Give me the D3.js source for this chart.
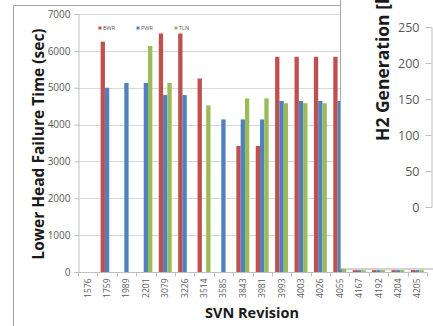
<!DOCTYPE html>
<html>
<head>
<meta charset="utf-8">
<script src="https://cdn.jsdelivr.net/npm/d3@7"></script>
<style>
  html, body { margin: 0; padding: 0; background: #fff; }
  svg { display: block; }
  text { font-family: "Open Sans", "Liberation Sans", sans-serif; }
</style>
</head>
<body>
<svg id="chart" width="433" height="326"></svg>
<script>
// SVN revisions on the x axis
const categories = ["1576","1759","1989","2201","3079","3226","3514","3585","3843",
                    "3981","3993","4003","4026","4055","4167","4192","4204","4205"];
// Lower head failure time (sec) per plant type
const bwr = [null,6250,null,null,6470,6470,5250,null,3420,3420,5840,5840,5840,5840,50,50,50,50];
const pwr = [null,5000,5130,5130,4800,4800,null,4140,4140,4140,4640,4640,4640,4640,50,50,50,50];
const tln = [null,null,null,6130,5130,null,4520,null,4710,4710,4580,4580,4580,4580,50,50,50,50];
const seriesNames = ["BWR","PWR","TLN"];
const seriesColors = ["#c0504d","#4f81bd","#9bbb59"];
const yTicks = [0,1000,2000,3000,4000,5000,6000,7000];
// H2 generation axis of the adjoining chart
const h2Ticks = [0,50,100,150,200,250];

const svg = d3.select("#chart");
const series = [bwr, pwr, tln];

const plotLeft = 78, plotRight = 427, plotTop = 14, plotBottom = 272;

// outer chart frame
svg.append("line").attr("x1",13.5).attr("x2",13.5).attr("y1",5.5).attr("y2",330)
  .attr("stroke","#a6a6a6");
svg.append("line").attr("x1",13.5).attr("x2",440).attr("y1",5.5).attr("y2",5.5)
  .attr("stroke","#a6a6a6");

const x = d3.scaleBand().domain(categories).range([plotLeft, plotRight]).paddingInner(0).paddingOuter(0);
const groupPad = x.bandwidth() / 6;
const barW = x.bandwidth() / 4.5;
const y = d3.scaleLinear().domain([0,7000]).range([plotBottom, plotTop]);

// horizontal gridlines
svg.append("g").selectAll("line").data(yTicks.filter(d => d > 0)).join("line")
  .attr("x1", plotLeft).attr("x2", plotRight)
  .attr("y1", d => Math.round(y(d)) + 0.5).attr("y2", d => Math.round(y(d)) + 0.5)
  .attr("stroke","#d9d9d9");

// y axis
const yAxis = svg.append("g").attr("transform",`translate(${plotLeft + 0.5},0)`)
  .call(d3.axisLeft(y).tickValues(yTicks).tickFormat(d3.format("d")).tickSize(4).tickPadding(4));
yAxis.select(".domain").attr("stroke","#bfbfbf");
yAxis.selectAll(".tick line").attr("stroke","#bfbfbf");
yAxis.selectAll("text").attr("fill","#595959").style("font-size","10px");

// bars
series.forEach((vals, si) => {
  svg.append("g").selectAll("rect")
    .data(categories.map((c, i) => ({c, v: vals[i]})).filter(d => d.v != null))
    .join("rect")
    .attr("x", d => x(d.c) + groupPad + si * barW)
    .attr("width", barW)
    .attr("y", d => y(d.v))
    .attr("height", d => plotBottom - y(d.v))
    .attr("fill", seriesColors[si]);
});

// x axis
const xAxisG = svg.append("g").attr("transform",`translate(0,${plotBottom + 0.5})`);
xAxisG.append("line").attr("x1", plotLeft).attr("x2", plotRight).attr("stroke","#bfbfbf");
xAxisG.selectAll(".tk").data(d3.range(categories.length + 1)).join("line")
  .attr("class","tk")
  .attr("x1", i => Math.round(plotLeft + i * x.step()) + 0.5)
  .attr("x2", i => Math.round(plotLeft + i * x.step()) + 0.5)
  .attr("y1", 0).attr("y2", 4).attr("stroke","#bfbfbf");
xAxisG.selectAll(".lbl").data(categories).join("text")
  .attr("class","lbl")
  .attr("transform", d => `translate(${x(d) + x.bandwidth()/2 + 3},6) rotate(-90)`)
  .attr("text-anchor","end")
  .attr("fill","#595959")
  .style("font-size","8.5px")
  .text(d => d);

// legend
const legend = svg.append("g");
seriesNames.forEach((n, i) => {
  const lx = 100 + i * 38;
  legend.append("rect").attr("x", lx - 1.5).attr("y", 26.5).attr("width", 3).attr("height", 3)
    .attr("fill", seriesColors[i]);
  legend.append("text").attr("x", lx + 3).attr("y", 30).attr("fill","#595959")
    .style("font-size","5.5px").text(n);
});

// axis titles
svg.append("text")
  .attr("transform","translate(44,144) rotate(-90)")
  .attr("text-anchor","middle").attr("font-weight","bold").attr("fill","#1a1a1a")
  .style("font-size","15.5px").text("Lower Head Failure Time (sec)");
svg.append("text")
  .attr("x", 252).attr("y", 318)
  .attr("text-anchor","middle").attr("font-weight","bold").attr("fill","#1a1a1a")
  .style("font-size","14.5px").text("SVN Revision");

// adjoining H2 generation chart panel
const panel = svg.append("g");
panel.append("rect").attr("x", 340.5).attr("y", -5).attr("width", 100).attr("height", 274)
  .attr("fill","#fff").attr("stroke","#a6a6a6");
const h2 = d3.scaleLinear().domain([0,250]).range([207, 27]);
const h2Axis = panel.append("g").attr("transform","translate(431.5,0)")
  .call(d3.axisLeft(h2).tickValues(h2Ticks).tickSize(6).tickPadding(6));
h2Axis.select(".domain").attr("stroke","#bfbfbf");
h2Axis.selectAll(".tick line").attr("stroke","#bfbfbf");
h2Axis.selectAll("text").attr("fill","#595959").style("font-size","12.5px");
panel.append("text")
  .attr("transform","translate(389,141) rotate(-90)")
  .attr("text-anchor","start").attr("font-weight","bold").attr("fill","#1a1a1a")
  .style("font-size","17.5px").text("H2 Generation [kg]");
</script>
</body>
</html>
